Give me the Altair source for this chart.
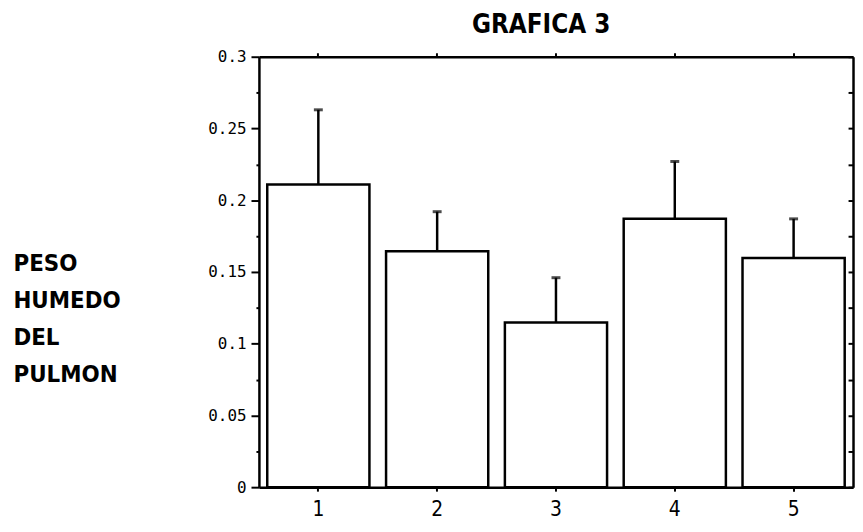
import altair as alt
import pandas as pd

groups = ["1", "2", "3", "4", "5"]
means = [0.211, 0.1645, 0.1147, 0.187, 0.1597]
err_tops = [0.263, 0.192, 0.146, 0.227, 0.187]
y_ticks = [0, 0.025, 0.05, 0.075, 0.1, 0.125, 0.15, 0.175, 0.2, 0.225, 0.25, 0.275, 0.3]
title_text = "GRAFICA 3"
y_title = ["PESO", "HUMEDO", "\u00a0\u00a0DEL", "PULMON"]

df = pd.DataFrame({"g": groups, "m": means, "e": err_tops})

COND = "DejaVu Sans Condensed, Liberation Sans Narrow, sans-serif"
MONO = "DejaVu Sans Mono, monospace"

xscale = alt.Scale(domain=groups, paddingInner=0.14, paddingOuter=0.07)
yscale = alt.Scale(domain=[0, 0.3], nice=False, zero=True)

left_axis = alt.Axis(
    orient="left",
    values=y_ticks,
    grid=False,
    domainColor="black", domainWidth=2.5,
    tickColor="black", tickWidth=2,
    tickSize={"condition": {"test": "round(datum.value*1000) % 50 !== 0", "value": 3}, "value": 8},
    labelExpr="round(datum.value*1000) % 50 === 0 ? format(datum.value, '~g') : ''",
    labelFont=MONO, labelFontSize=16, labelColor="black", labelPadding=5,
    title=y_title, titleAngle=0, titleX=-248, titleY=197, titleAlign="left",
    titleBaseline="top", titleFont=COND, titleFontSize=24, titleFontWeight="bold",
    titleLineHeight=37, titleColor="black",
)

right_axis = alt.Axis(
    orient="right", values=y_ticks, grid=False, labels=False, title=None,
    domainColor="black", domainWidth=2.5, tickColor="black", tickWidth=2,
    tickSize={"expr": "-5"},
)

bottom_axis = alt.Axis(
    orient="bottom", grid=False, title=None, labelAngle=0,
    domainColor="black", domainWidth=2.5, tickColor="black", tickWidth=2, tickSize=4,
    labelFont=COND, labelFontSize=21, labelColor="black", labelPadding=8,
)

top_axis = alt.Axis(
    orient="top", grid=False, title=None, labels=False,
    domainColor="black", domainWidth=2.5, tickColor="black", tickWidth=2, tickSize=4,
)

bars = alt.Chart(df).mark_bar(fill="white", stroke="black", strokeWidth=2.5).encode(
    x=alt.X("g:N", scale=xscale, axis=bottom_axis, sort=groups),
    y=alt.Y("m:Q", scale=yscale, axis=left_axis),
)

errs = alt.Chart(df).mark_rule(color="black", strokeWidth=2.5).encode(
    x=alt.X("g:N", scale=xscale, axis=top_axis, sort=groups),
    y=alt.Y("m:Q", scale=yscale, axis=right_axis),
    y2="e:Q",
)

caps = alt.Chart(df).mark_tick(color="black", thickness=3, size=9, orient="horizontal").encode(
    x=alt.X("g:N", scale=xscale, axis=None, sort=groups),
    y=alt.Y("e:Q", scale=yscale, axis=None),
)

chart = alt.layer(bars, errs, caps).resolve_axis(x="independent", y="independent").properties(
    width=599, height=434,
    title=alt.TitleParams(title_text, anchor="middle", dx=-15, offset=11, fontSize=26,
                          font=COND, fontWeight="bold", color="black"),
    autosize=alt.AutoSizeParams(type="none"),
    padding={"left": 253, "top": 47, "right": 2, "bottom": 35},
    background="white",
).configure_view(stroke=None)

chart.save("out.html", embed_options={"renderer": "svg", "actions": False})
